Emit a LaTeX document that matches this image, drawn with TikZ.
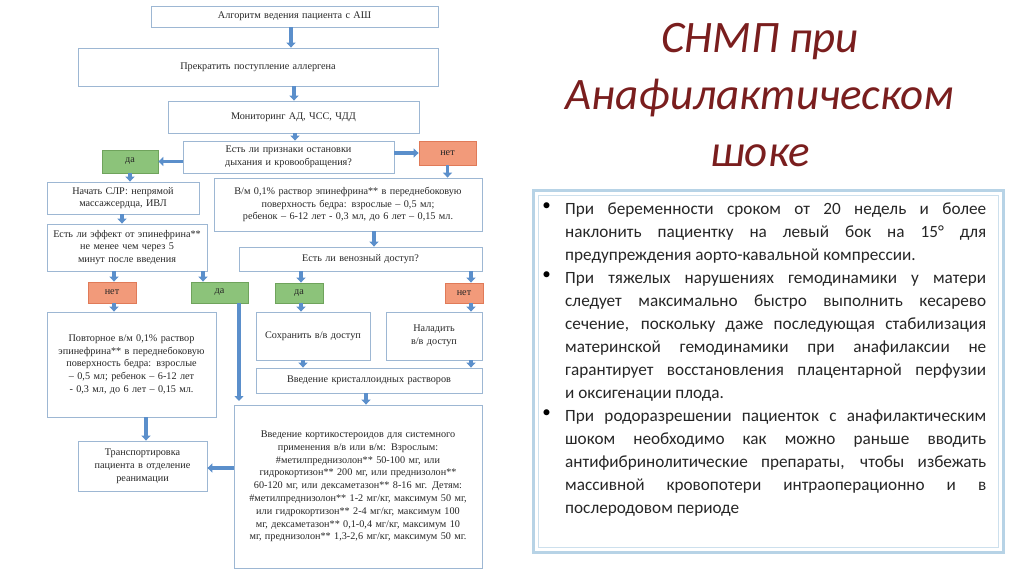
\documentclass[tikz,border=0pt]{standalone}
\usepackage{fontspec}
\setmainfont{Liberation Serif}
\newfontfamily\carfont{Carlito}
\usetikzlibrary{arrows.meta}
\definecolor{arr}{HTML}{5B8FCB}
\definecolor{bx}{HTML}{9DB7D3}
\definecolor{gr}{HTML}{8CC37A}
\definecolor{grd}{HTML}{6FA35C}
\definecolor{og}{HTML}{F29A7A}
\definecolor{ogd}{HTML}{E07A58}
\definecolor{ttl}{HTML}{7A1E1E}
\definecolor{frm}{HTML}{B7D3E6}
\tikzset{box/.style={draw=bx,line width=0.8pt,align=center,inner sep=2pt,font=\fontsize{10.2}{12.8}\selectfont,text=black!85},
 yes/.style={box,fill=gr,draw=grd},
 no/.style={box,fill=og,draw=ogd},
 barrow/.style={draw=arr,line width=3.5pt,-{Triangle[width=9pt,length=5pt]}},
 bul/.style={anchor=north west,text width=421pt,align=justify,inner sep=0pt,font=\carfont\fontsize{17.2}{23}\selectfont,text=black!85}}
\newcommand{\bx}[7]{\node[#1,minimum width={#4-#2},minimum height={#5-#3},text width={#4-#2-12}] (#6) at ({(#2+#4)/2},{(#3+#5)/2}) {#7};}
\begin{document}
\begin{tikzpicture}[x=1pt,y=-1pt]
\useasboundingbox (0,0) rectangle (1024,574);
\bx{box}{151}{6}{438}{27}{b1}{Алгоритм ведения пациента с АШ}
\bx{box}{78}{48}{438}{86}{b2}{Прекратить поступление аллергена\\[10pt]}
\bx{box}{168}{101}{419}{133}{b3}{Мониторинг АД, ЧСС, ЧДД\\[6pt]}
\bx{box}{183}{141}{394}{173}{b4}{Есть ли признаки остановки дыхания и кровообращения?}
\bx{yes}{102}{150}{158}{173}{y1}{да}
\bx{no}{419}{141}{476}{165}{n1}{нет}
\bx{box}{47}{182}{199}{214}{b5}{Начать СЛР: непрямой массажсердца, ИВЛ}
\bx{box}{47}{224}{207}{271}{b6}{Есть ли эффект от эпинефрина** не менее чем через 5 минут после введения}
\bx{box}{214}{178}{482}{231}{b7}{В/м 0,1\% раствор эпинефрина** в переднебоковую поверхность бедра: взрослые – 0,5 мл; ребенок – 6-12 лет - 0,3 мл, до 6 лет – 0,15 мл.}
\bx{box}{239}{247}{482}{271}{b8}{Есть ли венозный доступ?}
\bx{no}{88}{282}{136}{303}{n2}{нет}
\bx{yes}{191}{282}{248}{303}{y2}{да}
\bx{yes}{275}{283}{323}{303}{y3}{да}
\bx{no}{445}{283}{483}{303}{n3}{нет}
\bx{box}{47}{312}{216}{417}{b9}{Повторное в/м 0,1\% раствор эпинефрина** в переднебоковую поверхность бедра: взрослые – 0,5 мл; ребенок – 6-12 лет - 0,3 мл, до 6 лет – 0,15 мл.\\[22pt]}
\bx{box}{256}{312}{370}{360}{b10}{Сохранить в/в доступ\\[16pt]}
\bx{box}{386}{312}{482}{360}{b11}{Наладить в/в доступ\\[12pt]}
\bx{box}{256}{368}{482}{393}{b12}{Введение кристаллоидных растворов}
\bx{box}{234}{405}{482}{568}{b13}{Введение кортикостероидов для системного применения в/в или в/м: Взрослым: \#метилпреднизолон** 50-100 мг, или гидрокортизон** 200 мг, или преднизолон** 60-120 мг, или дексаметазон** 8-16 мг. Детям: \#метилпреднизолон** 1-2 мг/кг, максимум 50 мг, или гидрокортизон** 2-4 мг/кг, максимум 100 мг, дексаметазон** 0,1-0,4 мг/кг, максимум 10 мг, преднизолон** 1,3-2,6 мг/кг, максимум 50 мг.}
\bx{box}{78}{441}{207}{491}{b14}{Транспортировка пациента в отделение реанимации}
\coordinate (c2) at (239,401);
\draw[barrow] (b1.south-|291,0) -- (b2.north-|291,0);
\draw[barrow] (b2.south-|294,0) -- (b3.north-|294,0);
\draw[barrow] (b3.south-|295,0) -- (b4.north-|295,0);
\draw[barrow] (b4.west|-y1) -- (y1.east);
\draw[barrow] (b4.east|-n1) -- (n1.west);
\draw[barrow] (y1) -- (b5.north-|y1);
\draw[barrow] (n1) -- (b7.north-|n1);
\draw[barrow] (b5.south-|122,0) -- (b6.north-|122,0);
\draw[barrow] (b7.south-|374,0) -- (b8.north-|374,0);
\draw[barrow] (b6.south-|114,0) -- (n2.north-|114,0);
\draw[barrow] (b6.south-|203,0) -- (y2.north-|203,0);
\draw[barrow] (b8.south-|301,0) -- (y3.north-|301,0);
\draw[barrow] (b8.south-|471,0) -- (n3.north-|471,0);
\draw[barrow] (n2.south-|114,0) -- (b9.north-|114,0);
\draw[barrow] (y2.south-|c2) -- (c2);
\draw[barrow] (y3.south-|301,0) -- (b10.north-|301,0);
\draw[barrow] (n3.south-|471,0) -- (b11.north-|471,0);
\draw[barrow] (b10.south-|303,0) -- (b12.north-|303,0);
\draw[barrow] (b11.south-|471,0) -- (b12.north-|471,0);
\draw[barrow] (b12.south-|366,0) -- (b13.north-|366,0);
\draw[barrow] (b9.south-|146,0) -- (b14.north-|146,0);
\draw[barrow] (b13.west|-0,468) -- (b14.east|-0,468);
% right side
\node[text=ttl,font=\carfont\itshape\fontsize{45}{57}\selectfont,align=center] (t) at (760,95) {СНМП при\\Анафилактическом\\шоке};
\draw[frm,line width=3pt] (533,190) rectangle (1003,552);
\draw[frm!70,line width=0.6pt] (538,195) rectangle (998,547);
\node[bul] (p1) at (565,203) {При беременности сроком от 20 недель и более наклонить пациентку на левый бок на 15° для предупреждения аорто-кавальной компрессии.};
\node[bul] (p2) at (565,272) {При тяжелых нарушениях гемодинамики у матери следует максимально быстро выполнить кесарево сечение, поскольку даже последующая стабилизация материнской гемодинамики при анафилаксии не гарантирует восстановления плацентарной перфузии и оксигенации плода.};
\node[bul] (p3) at (565,410) {При родоразрешении пациенток с анафилактическим шоком необходимо как можно раньше вводить антифибринолитические препараты, чтобы избежать массивной кровопотери интраоперационно и в послеродовом периоде};
\foreach \p in {p1,p2,p3} \node[font=\carfont\fontsize{17}{23}\selectfont,anchor=north east,inner sep=0pt] at ([xshift=-14pt]\p.north west) {•};
\end{tikzpicture}
\end{document}
